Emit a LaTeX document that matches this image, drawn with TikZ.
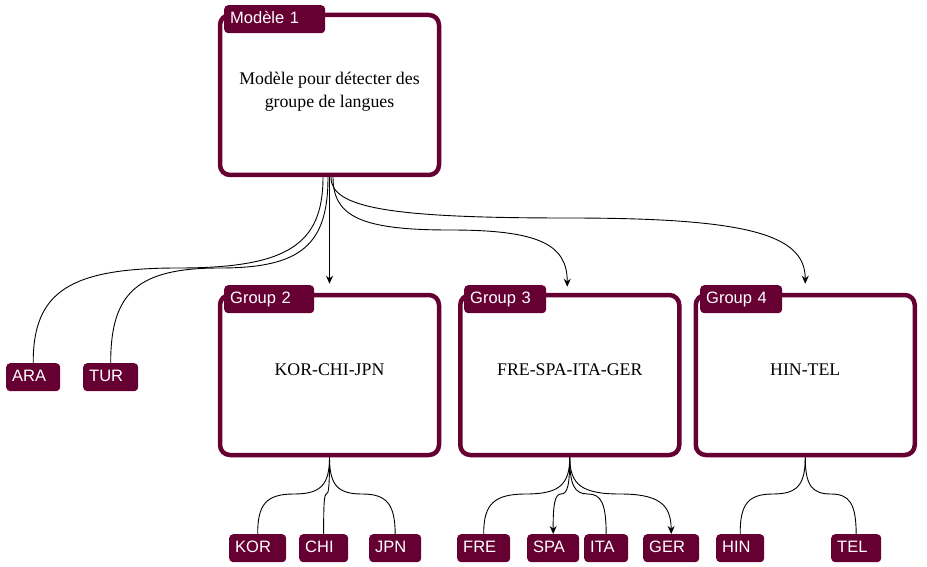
\documentclass[tikz,border=0pt]{standalone}
\usepackage{fontspec}
\setmainfont{Liberation Serif}
\newfontfamily\labfont{Liberation Sans}
\usetikzlibrary{arrows.meta}
\definecolor{wine}{HTML}{660033}
\begin{document}
\begin{tikzpicture}[x=1pt,y=-1pt,
  box/.style={draw=wine, line width=4.5pt, rounded corners=10pt, fill=white, minimum width=219pt, minimum height=160pt, inner sep=0pt},
  tab/.style={fill=wine, rounded corners=4pt, text=white, font=\labfont\fontsize{16.5}{19}\selectfont, anchor=north west, minimum height=28pt, inner xsep=6pt, inner ysep=0pt, align=left, text height=11.8pt, text depth=3.5pt},
  lbl/.style={tab},
  main/.style={font=\fontsize{17.8}{23}\selectfont, align=center, inner sep=0pt},
  con/.style={draw=black, line width=0.9pt},
  arr/.style={con, -{Stealth[length=8pt,width=7pt]}}
]
\useasboundingbox (0,0) rectangle (927,567);

% boxes
\node[box] (m) at (329.5,95) {};
\node[box] (g2) at (329.5,375) {};
\node[box] (g3) at (569.75,375) {};
\node[box] (g4) at (805.25,375) {};

% tabs
\node[tab, text width=89pt] (t1) at (224,5) {Modèle 1};
\node[tab, text width=78pt] (t2) at (224,285) {Group 2};
\node[tab, text width=70pt] (t3) at (464,285) {Group 3};
\node[tab, text width=70pt] (t4) at (700,285) {Group 4};

% texts
\node[main] (mt) at (329.5,91.5) {Modèle pour détecter des\\groupe de langues};
\node[main, anchor=base] (g2t) at (329.5,375) {KOR-CHI-JPN};
\node[main, anchor=base] (g3t) at (569.75,375) {FRE-SPA-ITA-GER};
\node[main, anchor=base] (g4t) at (805.25,375) {HIN-TEL};

% labels
\node[lbl, text width=42pt] (ara) at (6,363) {ARA};
\node[lbl, text width=43pt] (tur) at (83,363) {TUR};
\node[lbl, text width=45pt] (kor) at (229,534) {KOR};
\node[lbl, text width=37pt] (chi) at (299,534) {CHI};
\node[lbl, text width=40pt] (jpn) at (369,534) {JPN};
\node[lbl, text width=41pt] (fre) at (457,534) {FRE};
\node[lbl, text width=40pt] (spa) at (527,534) {SPA};
\node[lbl, text width=32pt] (ita) at (584,534) {ITA};
\node[lbl, text width=44pt] (ger) at (643,534) {GER};
\node[lbl, text width=36pt] (hin) at (716,534) {HIN};
\node[lbl, text width=38pt] (tel) at (831,534) {TEL};

% connectors from model
\draw[con] ([xshift=-6.5pt]m.south) .. controls (323,245) and (287,268) .. (178,268) .. controls (69,268) and (33,292) .. (ara.north);
\draw[con] ([xshift=-1.5pt]m.south) .. controls (328,245) and (301,268) .. (220,268) .. controls (138,268) and (110.5,292) .. (tur.north);
\draw[arr] (m.south) -- ([yshift=9pt]g2.north);
\draw[arr] ([xshift=3.5pt]m.south) .. controls (333,217) and (362,230) .. (450,230) .. controls (538,230) and (567.25,244) .. ([xshift=-2.5pt,yshift=6pt]g3.north);
\draw[arr] ([xshift=1.5pt]m.south) .. controls (331,208) and (390,218) .. (568,218) .. controls (746,218) and (805.25,234) .. ([yshift=9pt]g4.north);

% group 2 children
\draw[con] (g2.south) .. controls (329.5,485) and (320.6,494) .. (294,494) .. controls (266.6,494) and (257.5,504) .. (kor.north);
\draw[con] (g2.south) .. controls (329.5,485) and (328.75,494) .. (326.5,494) .. controls (324.25,494) and (323.5,504) .. (chi.north);
\draw[con] (g2.south) .. controls (329.5,485) and (337.6,494) .. (362,494) .. controls (386.75,494) and (395,504) .. (jpn.north);

% group 3 children
\draw[con] (g3.south) .. controls (569.75,485) and (558.8,494) .. (526,494) .. controls (494.1,494) and (483.5,504) .. (fre.north);
\draw[arr] (g3.south) .. controls (569.75,485) and (567.6,494) .. (561,494) .. controls (555,494) and (553,504) .. (spa.north);
\draw[con] (g3.south) .. controls (569.75,485) and (574.3,494) .. (588,494) .. controls (601.5,494) and (606,504) .. (ita.north);
\draw[arr] (g3.south) .. controls (569.75,485) and (582.3,494) .. (620,494) .. controls (658.25,494) and (671,504) .. (ger.north);

% group 4 children
\draw[con] (g4.south) .. controls (805.25,485) and (797.2,494) .. (773,494) .. controls (748.25,494) and (740,504) .. (hin.north);
\draw[con] (g4.south) .. controls (805.25,485) and (811.7,494) .. (831,494) .. controls (849.75,494) and (856,504) .. (tel.north);
\end{tikzpicture}
\end{document}
